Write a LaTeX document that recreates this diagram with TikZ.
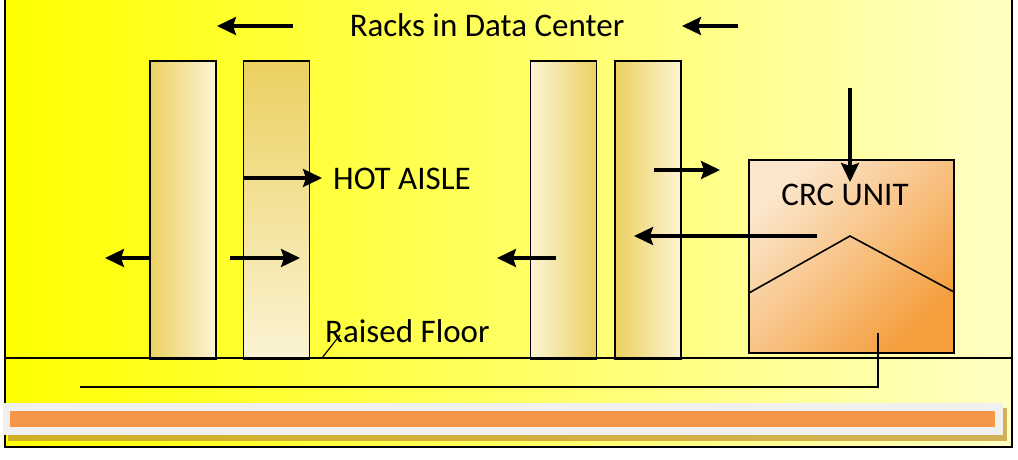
\documentclass[tikz,border=0pt]{standalone}
\usepackage{fontspec}
\setmainfont{Carlito}
\usetikzlibrary{arrows.meta}
\definecolor{bgleft}{RGB}{255,255,0}
\definecolor{bgright}{RGB}{255,255,196}
\definecolor{rackgold}{RGB}{236,208,96}
\definecolor{rackcream}{RGB}{251,244,212}
\definecolor{crclight}{RGB}{252,230,204}
\definecolor{crcdark}{RGB}{244,158,60}
\definecolor{barorange}{RGB}{245,150,72}
\definecolor{bargray}{RGB}{240,240,238}
\definecolor{shadowtan}{RGB}{196,150,50}
\tikzset{
  rackbox/.style={draw=black, line width=1.6pt, inner sep=0pt, minimum width=66pt, minimum height=298pt},
  flowarrow/.style={line width=3.2pt, -{Stealth[length=19pt,width=18pt,inset=3pt]}},
  plainline/.style={line width=1.6pt},
  lbl/.style={font=\fontsize{33}{36}\selectfont, inner sep=0pt}
}
\begin{document}
\begin{tikzpicture}[x=1pt,y=-1pt]
\useasboundingbox (0,0) rectangle (1018,459);
% background
\shade[left color=bgleft, right color=bgright] (5,0) rectangle (1012,447);
% frame
\draw[line width=1.8pt] (5,0) -- (5,447) -- (1012,447) -- (1012,0);
% racks
\node[rackbox, left color=rackgold, right color=rackcream] (r1) at (183,210) {};
\node[rackbox, top color=rackgold, bottom color=rackcream] (r2) at (276.5,210) {};
\node[rackbox, left color=rackcream, right color=rackgold] (r3) at (563.5,210) {};
\node[rackbox, left color=rackgold, right color=rackcream] (r4) at (648,210) {};
% CRC unit
\node[draw=black, line width=1.6pt, inner sep=0pt, minimum width=205pt, minimum height=193pt,
      left color=crclight, right color=crcdark, shading angle=45] (crc) at (851.5,256.5) {};
\node[lbl] (crctext) at (845,195) {CRC UNIT};
\coordinate (roofL) at (749,293);
\coordinate (apex) at (850,236);
\coordinate (roofR) at (954,292);
\draw[plainline] (roofL) -- (apex) -- (roofR);
% floor
\coordinate (floorL) at (5,358);
\coordinate (floorR) at (1012,358);
\draw[plainline] (floorL) -- (floorR);
% duct
\coordinate (ductL) at (80,387);
\coordinate (ductC) at (878,387);
\coordinate (ductT) at (878,333);
\draw[plainline] (ductL) -- (ductC) -- (ductT);
% labels
\node[lbl] (title) at (487,25) {Racks in Data Center};
\node[lbl, anchor=west] (hot) at (333,179) {HOT AISLE};
\node[lbl, anchor=west] (floor) at (325,331) {Raised Floor};
\coordinate (leadA) at (322,358);
\coordinate (leadB) at (340,335);
\draw[line width=1.2pt] (leadA) -- (leadB);
% arrows
\coordinate (a1s) at (293,26); \coordinate (a1e) at (217,26);
\draw[flowarrow] (a1s) -- (a1e);
\coordinate (a2s) at (738,26); \coordinate (a2e) at (682,26);
\draw[flowarrow] (a2s) -- (a2e);
\coordinate (a3s) at (244,178); \coordinate (a3e) at (322,178);
\draw[flowarrow] (a3s) -- (a3e);
\coordinate (a4s) at (150,258); \coordinate (a4e) at (105,258);
\draw[flowarrow] (a4s) -- (a4e);
\coordinate (a5s) at (230,258); \coordinate (a5e) at (300,258);
\draw[flowarrow] (a5s) -- (a5e);
\coordinate (a6s) at (556,258); \coordinate (a6e) at (497,258);
\draw[flowarrow] (a6s) -- (a6e);
\coordinate (a7s) at (654,170); \coordinate (a7e) at (720,170);
\draw[flowarrow] (a7s) -- (a7e);
\coordinate (a8s) at (817,236); \coordinate (a8e) at (634,236);
\draw[flowarrow] (a8s) -- (a8e);
\coordinate (a9s) at (850,88); \coordinate (a9e) at (850,182);
\draw[flowarrow] (a9s) -- (a9e);
% bottom bar
\fill[shadowtan, opacity=0.75] (8,408) rectangle (1007,441);
\fill[bargray] (3,403) rectangle (1003,435);
\node[fill=barorange, inner sep=0pt, minimum width=985pt, minimum height=16pt] (bar) at (502.5,419) {};
\end{tikzpicture}
\end{document}
